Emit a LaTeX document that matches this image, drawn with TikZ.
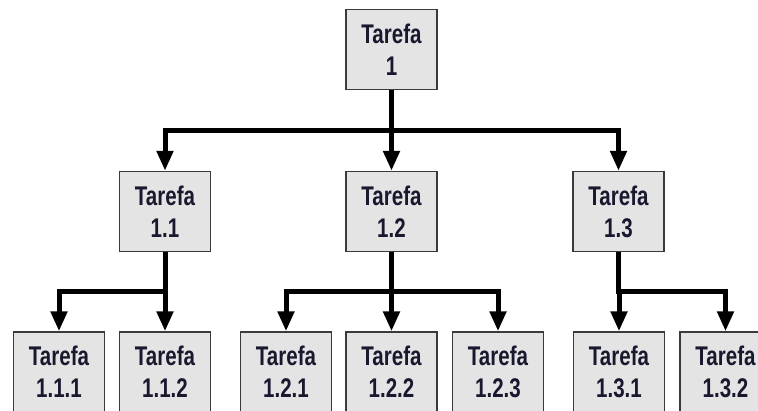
\documentclass[tikz,border=0pt]{standalone}
\usepackage{fontspec}
\setmainfont[FakeStretch=0.76]{Liberation Sans}
\usetikzlibrary{arrows.meta}
\definecolor{boxfill}{HTML}{E4E4E4}
\definecolor{boxline}{HTML}{3A3A3A}
\definecolor{labeltext}{HTML}{18182E}
\begin{document}
\begin{tikzpicture}[x=1pt,y=-1pt,
  task/.style={draw=boxline, line width=1.4pt, fill=boxfill,
    minimum width=91pt, minimum height=80pt, inner sep=0pt,
    align=center, text=labeltext,
    font=\bfseries\fontsize{27}{32}\selectfont},
  link/.style={line width=5pt, -{Triangle[length=20pt,width=16pt]}}]
\useasboundingbox (0,0) rectangle (758,411);
\clip (0,0) rectangle (758,411);

% level 1
\node[task] (t1) at (391.5,49.5) {Tarefa\\1};

% level 2
\node[task] (t11) at (165,211.5) {Tarefa\\1.1};
\node[task] (t12) at (391.5,211.5) {Tarefa\\1.2};
\node[task] (t13) at (618.5,211.5) {Tarefa\\1.3};

% level 3
\node[task] (t111) at (59,372) {Tarefa\\1.1.1};
\node[task] (t112) at (165,372) {Tarefa\\1.1.2};
\node[task] (t121) at (286,372) {Tarefa\\1.2.1};
\node[task] (t122) at (391.5,372) {Tarefa\\1.2.2};
\node[task] (t123) at (498,372) {Tarefa\\1.2.3};
\node[task] (t131) at (619,372) {Tarefa\\1.3.1};
\node[task] (t132) at (725.5,372) {Tarefa\\1.3.2};

% connectors: trunk down to a bar, then down to each child
\foreach \c in {t11,t12,t13}
  \draw[link] (t1.south) -- ++(0,40) -| (\c.north);
\foreach \c in {t111,t112}
  \draw[link] (t11.south) -- ++(0,39.5) -| (\c.north);
\foreach \c in {t121,t122,t123}
  \draw[link] (t12.south) -- ++(0,39.5) -| (\c.north);
\foreach \c in {t131,t132}
  \draw[link] (t13.south) -- ++(0,39.5) -| (\c.north);
\end{tikzpicture}
\end{document}
